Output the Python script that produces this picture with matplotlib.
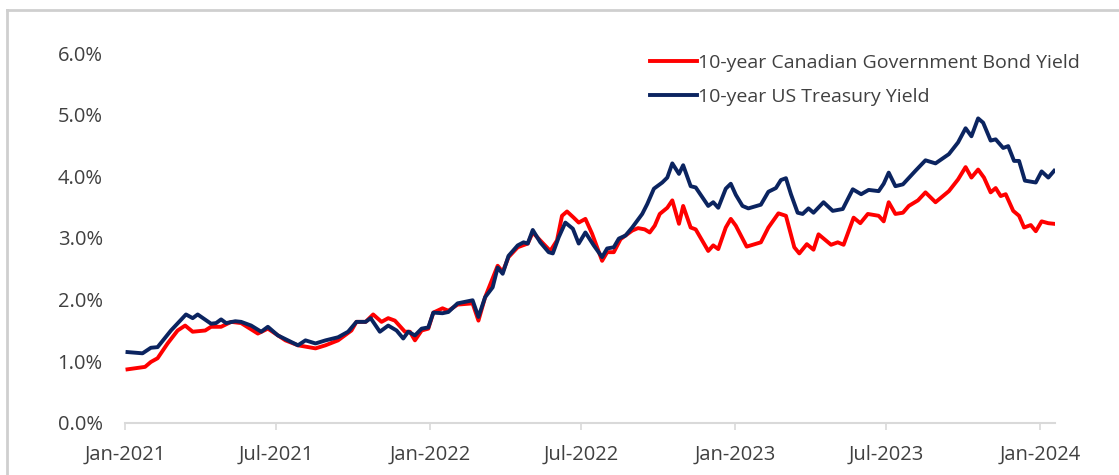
import matplotlib
matplotlib.use("Agg")
import matplotlib.pyplot as plt
import matplotlib.dates as mdates
from matplotlib.lines import Line2D
from matplotlib.ticker import FuncFormatter
import pandas as pd

# 10-year US Treasury yield (%)
us_dates = [
    "2021-01-04", "2021-01-22", "2021-02-01", "2021-02-09", "2021-02-25", "2021-03-15",
    "2021-03-23", "2021-03-29", "2021-04-14", "2021-04-20", "2021-04-26", "2021-05-02",
    "2021-05-13", "2021-05-20", "2021-06-01", "2021-06-13", "2021-06-21", "2021-07-03",
    "2021-07-15", "2021-07-27", "2021-08-05", "2021-08-17", "2021-08-29", "2021-09-13",
    "2021-09-25", "2021-10-05", "2021-10-16", "2021-10-22", "2021-11-02", "2021-11-12",
    "2021-11-22", "2021-11-30", "2021-12-06", "2021-12-14", "2021-12-22", "2021-12-30",
    "2022-01-05", "2022-01-16", "2022-01-23", "2022-02-03", "2022-02-21", "2022-02-28",
    "2022-03-08", "2022-03-17", "2022-03-23", "2022-03-29", "2022-04-05", "2022-04-16",
    "2022-04-23", "2022-04-28", "2022-05-04", "2022-05-13", "2022-05-23", "2022-05-28",
    "2022-06-04", "2022-06-12", "2022-06-21", "2022-06-28", "2022-07-06", "2022-07-16",
    "2022-07-26", "2022-08-01", "2022-08-09", "2022-08-15", "2022-08-23", "2022-08-31",
    "2022-09-12", "2022-09-18", "2022-09-26", "2022-10-06", "2022-10-12", "2022-10-18",
    "2022-10-26", "2022-10-31", "2022-11-09", "2022-11-15", "2022-11-30", "2022-12-06",
    "2022-12-12", "2022-12-21", "2022-12-27", "2023-01-02", "2023-01-10", "2023-01-17",
    "2023-02-01", "2023-02-10", "2023-02-19", "2023-02-25", "2023-03-03", "2023-03-09",
    "2023-03-17", "2023-03-23", "2023-03-30", "2023-04-05", "2023-04-17", "2023-04-28",
    "2023-05-10", "2023-05-22", "2023-06-01", "2023-06-10", "2023-06-22", "2023-06-28",
    "2023-07-04", "2023-07-12", "2023-07-21", "2023-08-05", "2023-08-17", "2023-08-29",
    "2023-09-14", "2023-09-25", "2023-10-04", "2023-10-11", "2023-10-19", "2023-10-25",
    "2023-11-03", "2023-11-09", "2023-11-18", "2023-11-24", "2023-12-01", "2023-12-07",
    "2023-12-14", "2023-12-27", "2024-01-03", "2024-01-11", "2024-01-18",
]
us_yield = [
    1.15, 1.13, 1.22, 1.23, 1.50, 1.76,
    1.70, 1.76, 1.61, 1.62, 1.68, 1.62,
    1.65, 1.64, 1.58, 1.48, 1.56, 1.42,
    1.34, 1.26, 1.34, 1.29, 1.34, 1.39,
    1.48, 1.64, 1.64, 1.70, 1.48, 1.58,
    1.50, 1.37, 1.48, 1.42, 1.53, 1.55,
    1.79, 1.78, 1.80, 1.94, 1.99, 1.72,
    2.04, 2.20, 2.52, 2.42, 2.71, 2.88,
    2.93, 2.91, 3.13, 2.93, 2.77, 2.75,
    3.01, 3.25, 3.15, 2.91, 3.09, 2.88,
    2.69, 2.83, 2.85, 2.99, 3.04, 3.17,
    3.39, 3.55, 3.80, 3.90, 3.98, 4.21,
    4.04, 4.18, 3.84, 3.82, 3.52, 3.58,
    3.49, 3.80, 3.88, 3.70, 3.52, 3.48,
    3.54, 3.75, 3.81, 3.94, 3.97, 3.71,
    3.41, 3.39, 3.48, 3.41, 3.58, 3.44,
    3.47, 3.79, 3.71, 3.78, 3.76, 3.88,
    4.06, 3.84, 3.87, 4.09, 4.26, 4.21,
    4.36, 4.55, 4.78, 4.65, 4.94, 4.87,
    4.58, 4.60, 4.46, 4.49, 4.25, 4.25,
    3.93, 3.90, 4.08, 3.98, 4.09,
]

# 10-year Canadian government bond yield (%)
ca_dates = [
    "2021-01-04", "2021-01-25", "2021-02-01", "2021-02-09", "2021-02-21", "2021-03-05",
    "2021-03-14", "2021-03-23", "2021-04-07", "2021-04-14", "2021-04-26", "2021-05-08",
    "2021-05-20", "2021-06-09", "2021-06-21", "2021-07-12", "2021-07-27", "2021-08-17",
    "2021-08-29", "2021-09-13", "2021-09-29", "2021-10-05", "2021-10-16", "2021-10-25",
    "2021-11-04", "2021-11-12", "2021-11-20", "2021-12-02", "2021-12-08", "2021-12-14",
    "2021-12-22", "2021-12-30", "2022-01-05", "2022-01-16", "2022-01-23", "2022-02-03",
    "2022-02-21", "2022-02-28", "2022-03-08", "2022-03-23", "2022-03-29", "2022-04-05",
    "2022-04-16", "2022-04-28", "2022-05-04", "2022-05-13", "2022-05-25", "2022-06-02",
    "2022-06-08", "2022-06-14", "2022-06-22", "2022-06-28", "2022-07-06", "2022-07-14",
    "2022-07-26", "2022-08-01", "2022-08-09", "2022-08-17", "2022-08-31", "2022-09-07",
    "2022-09-15", "2022-09-21", "2022-09-27", "2022-10-03", "2022-10-12", "2022-10-18",
    "2022-10-26", "2022-10-31", "2022-11-09", "2022-11-15", "2022-11-30", "2022-12-06",
    "2022-12-12", "2022-12-21", "2022-12-27", "2023-01-02", "2023-01-15", "2023-02-01",
    "2023-02-10", "2023-02-22", "2023-03-03", "2023-03-13", "2023-03-19", "2023-03-28",
    "2023-04-05", "2023-04-11", "2023-04-26", "2023-05-04", "2023-05-11", "2023-05-23",
    "2023-05-31", "2023-06-09", "2023-06-22", "2023-06-28", "2023-07-04", "2023-07-12",
    "2023-07-21", "2023-07-28", "2023-08-08", "2023-08-17", "2023-08-29", "2023-09-14",
    "2023-09-25", "2023-10-04", "2023-10-11", "2023-10-19", "2023-10-26", "2023-11-03",
    "2023-11-09", "2023-11-15", "2023-11-21", "2023-11-30", "2023-12-07", "2023-12-13",
    "2023-12-21", "2023-12-27", "2024-01-03", "2024-01-11", "2024-01-18",
]
ca_yield = [
    0.87, 0.91, 0.99, 1.05, 1.29, 1.50,
    1.58, 1.48, 1.50, 1.56, 1.56, 1.64,
    1.62, 1.45, 1.53, 1.34, 1.26, 1.21,
    1.26, 1.34, 1.50, 1.64, 1.64, 1.76,
    1.64, 1.70, 1.66, 1.48, 1.48, 1.34,
    1.50, 1.53, 1.79, 1.86, 1.82, 1.92,
    1.94, 1.66, 2.04, 2.55, 2.45, 2.69,
    2.85, 2.91, 3.09, 2.96, 2.79, 2.96,
    3.36, 3.43, 3.33, 3.25, 3.31, 3.07,
    2.63, 2.77, 2.77, 2.98, 3.12, 3.16,
    3.14, 3.09, 3.20, 3.39, 3.49, 3.61,
    3.23, 3.52, 3.17, 3.14, 2.79, 2.88,
    2.82, 3.17, 3.31, 3.20, 2.86, 2.93,
    3.17, 3.40, 3.36, 2.85, 2.75, 2.90,
    2.81, 3.06, 2.89, 2.93, 2.89, 3.33,
    3.24, 3.39, 3.36, 3.27, 3.58, 3.39,
    3.41, 3.52, 3.61, 3.74, 3.58, 3.76,
    3.95, 4.15, 3.98, 4.11, 3.98, 3.74,
    3.81, 3.68, 3.71, 3.44, 3.36, 3.17,
    3.21, 3.11, 3.27, 3.24, 3.23,
]

tick_dates = ["2021-01-01", "2021-07-01", "2022-01-01", "2022-07-01",
              "2023-01-01", "2023-07-01", "2024-01-01"]
y_ticks = [0, 1, 2, 3, 4, 5, 6]

RED = "#ff0000"
NAVY = "#0b2460"
TEXT = "#404040"
GREY = "#d9d9d9"

plt.rcParams["font.family"] = ["Open Sans", "DejaVu Sans"]

fig = plt.figure(figsize=(11.19, 4.75), dpi=100)
ax = fig.add_axes([0.1117, 0.1095, 0.8311, 0.7789])

ax.plot(pd.to_datetime(ca_dates), ca_yield, color=RED, lw=2.8,
        label="10-year Canadian Government Bond Yield", solid_joinstyle="round")
ax.plot(pd.to_datetime(us_dates), us_yield, color=NAVY, lw=2.8,
        label="10-year US Treasury Yield", solid_joinstyle="round")

ax.set_ylim(0, 6)
ax.set_xlim(pd.Timestamp("2021-01-01"), pd.Timestamp("2024-01-19"))
ax.set_yticks(y_ticks)
ax.yaxis.set_major_formatter(FuncFormatter(lambda v, _: f"{v:.1f}%"))
ax.set_xticks(pd.to_datetime(tick_dates))
ax.xaxis.set_major_formatter(mdates.DateFormatter("%b-%Y"))

for side in ["top", "right", "left"]:
    ax.spines[side].set_visible(False)
ax.spines["bottom"].set_color(GREY)
ax.spines["bottom"].set_linewidth(1.5)

ax.tick_params(axis="y", length=0, pad=16, labelsize=14.5, labelcolor=TEXT)
ax.tick_params(axis="x", length=5, width=1.2, color=GREY, pad=11,
               labelsize=14.5, labelcolor=TEXT)

ax.legend(loc="upper left", bbox_to_anchor=(650 / 1119, 1 - 54 / 475),
          bbox_transform=fig.transFigure, frameon=False, fontsize=14,
          labelcolor=TEXT, handlelength=2.42, handletextpad=0.05,
          labelspacing=0.8, borderpad=0, borderaxespad=0)

# light grey frame around the picture
fig.add_artist(Line2D([7 / 1119, 7 / 1119], [0, 1 - 10 / 475],
                      transform=fig.transFigure, color="#cfcfcf", lw=2))
fig.add_artist(Line2D([7 / 1119, 1], [1 - 10 / 475, 1 - 10 / 475],
                      transform=fig.transFigure, color="#cfcfcf", lw=2))

fig.savefig("out.png", dpi=100)
